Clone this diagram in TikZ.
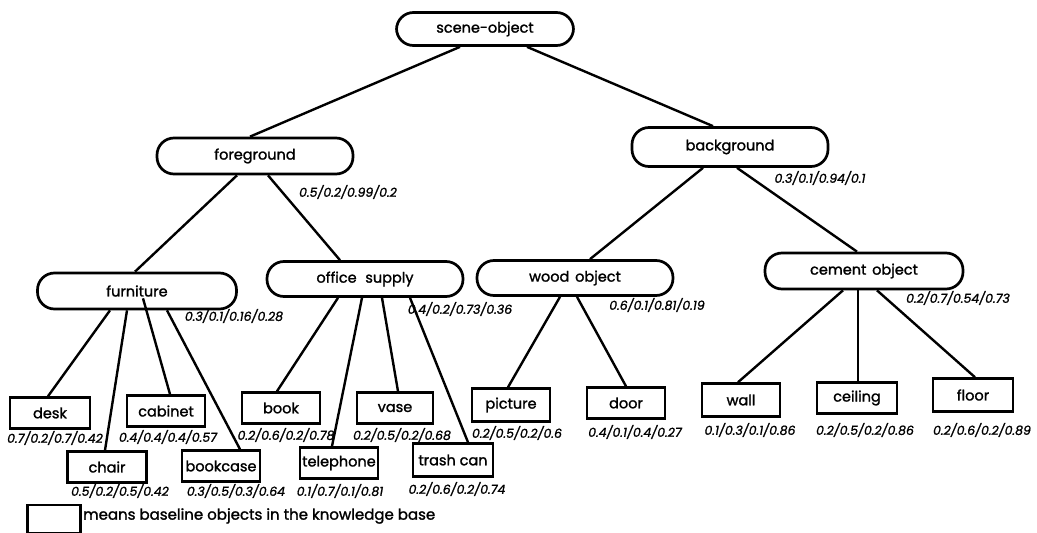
\documentclass[tikz,border=0pt]{standalone}
\usepackage{fontspec}
\setmainfont{Poppins}[FakeBold=1.5]
\newfontfamily\probfont{Poppins}[FakeBold=1.2]
\begin{document}
\begin{tikzpicture}[x=1pt,y=-1pt,
  catbox/.style={draw, line width=2.7pt, rounded corners=17pt, minimum height=36pt,
    minimum width=196pt, inner sep=0pt, font=\fontsize{14.5}{14.5}\selectfont},
  leafbox/.style={draw, line width=2.5pt, minimum height=31pt, minimum width=78pt,
    inner sep=0pt, font=\fontsize{14.5}{14.5}\selectfont},
  prob/.style={inner sep=0pt, font=\probfont\fontsize{12.5}{13}\selectfont\itshape},
  link/.style={line width=2.4pt}]
\useasboundingbox (0,0) rectangle (1037,533);

% category nodes
\node[catbox, minimum width=177pt, minimum height=33pt] (scene) at (485,29) {scene-object};
\node[catbox] (fg) at (255,156) {foreground};
\node[catbox, minimum height=39pt] (bg) at (730,147) {background};
\node[catbox, minimum width=199pt] (furn) at (137,291) {furniture};
\node[catbox, minimum height=35pt] (office) at (365,279) {office\hspace{0.6em}supply};
\node[catbox, minimum height=35pt] (wood) at (575,278) {wood\hspace{0.4em}object};
\node[catbox, minimum width=198pt] (cement) at (864,271) {cement\hspace{0.4em}object};

% baseline objects
\node[leafbox, minimum width=80pt] (desk) at (50,413) {desk};
\node[leafbox] (cabinet) at (166,411) {cabinet};
\node[leafbox, minimum width=79pt] (chair) at (107,467) {chair};
\node[leafbox] (bookcase) at (221,466) {bookcase};
\node[leafbox] (book) at (281,408) {book};
\node[leafbox, minimum width=76pt] (vase) at (395,408) {vase};
\node[leafbox] (phone) at (339,463) {telephone};
\node[leafbox, minimum width=80pt, minimum height=33pt] (trash) at (453,460) {trash can};
\node[leafbox, minimum height=33pt] (picture) at (511,405) {picture};
\node[leafbox] (door) at (626,403) {door};
\node[leafbox, minimum height=33pt] (wall) at (741,400) {wall};
\node[leafbox, minimum width=80pt] (ceiling) at (857,398) {ceiling};
\node[leafbox, minimum width=80pt, minimum height=33pt] (floor) at (973,395) {floor};

% probability annotations
\node[prob] (pfg) at (348,192) {0.5/0.2/0.99/0.2};
\node[prob] (pbg) at (820,178) {0.3/0.1/0.94/0.1};
\node[prob] (pfurn) at (234,316) {0.3/0.1/0.16/0.28};
\node[prob] (poffice) at (460,309) {0.4/0.2/0.73/0.36};
\node[prob] (pwood) at (657,305) {0.6/0.1/0.81/0.19};
\node[prob] (pcement) at (958,298) {0.2/0.7/0.54/0.73};
\node[prob] (pdesk) at (55,438) {0.7/0.2/0.7/0.42};
\node[prob] (pcabinet) at (168,437) {0.4/0.4/0.4/0.57};
\node[prob] (pchair) at (120,491) {0.5/0.2/0.5/0.42};
\node[prob] (pbookcase) at (236,491) {0.3/0.5/0.3/0.64};
\node[prob] (pbook) at (286,435) {0.2/0.6/0.2/0.78};
\node[prob] (pvase) at (402,435) {0.2/0.5/0.2/0.68};
\node[prob] (pphone) at (340,491) {0.1/0.7/0.1/0.81};
\node[prob] (ptrash) at (457,489) {0.2/0.6/0.2/0.74};
\node[prob] (ppicture) at (517,433) {0.2/0.5/0.2/0.6};
\node[prob] (pdoor) at (635,432) {0.4/0.1/0.4/0.27};
\node[prob] (pwall) at (750,430) {0.1/0.3/0.1/0.86};
\node[prob] (pceiling) at (865,430) {0.2/0.5/0.2/0.86};
\node[prob] (pfloor) at (982,430) {0.2/0.6/0.2/0.89};

% hierarchy links
\draw[link] ([xshift=-25pt]scene.south) -- ([xshift=-5pt]fg.north);
\draw[link] ([xshift=42pt]scene.south) -- ([xshift=-17pt]bg.north);
\draw[link] ([xshift=-18pt]fg.south) -- ([xshift=-2pt]furn.north);
\draw[link] ([xshift=13pt]fg.south) -- ([xshift=-25pt]office.north);
\draw[link] ([xshift=-27pt]bg.south) -- ([xshift=15pt]wood.north);
\draw[link] ([xshift=7pt]bg.south) -- ([xshift=-7pt]cement.north);

\draw[link] ([xshift=-27pt]furn.south) -- ([xshift=-2pt]desk.north);
\draw[link] ([xshift=-10pt]furn.south) -- ([xshift=-2pt]chair.north);
\draw[link] ([xshift=6pt,yshift=12pt]furn.south) -- ([xshift=4pt]cabinet.north);
\draw[link] ([xshift=30pt]furn.south) -- ([xshift=19pt]bookcase.north);

\draw[link] ([xshift=-27pt]office.south) -- ([xshift=-4pt]book.north);
\draw[link] ([xshift=-3pt]office.south) -- ([xshift=-7pt]phone.north);
\draw[link] ([xshift=17pt]office.south) -- ([xshift=3pt]vase.north);
\draw[link] ([xshift=45pt]office.south) -- ([xshift=15pt]trash.north);

\draw[link] ([xshift=-15pt]wood.south) -- ([xshift=-3pt]picture.north);
\draw[link] ([xshift=2pt]wood.south) -- (door.north);

\draw[link] ([xshift=-21pt]cement.south) -- ([xshift=-3pt]wall.north);
\draw[link] ([xshift=-6pt]cement.south) -- ([xshift=1pt]ceiling.north);
\draw[link] ([xshift=13pt]cement.south) -- ([xshift=2pt]floor.north);

% legend
\node[leafbox, minimum width=53pt, minimum height=28pt] (legendbox) at (54,519) {};
\node[anchor=west, inner sep=0pt, font=\fontsize{15}{15}\selectfont] (legendtext) at (83,516)
  {means baseline objects in the knowledge base};
\end{tikzpicture}
\end{document}
